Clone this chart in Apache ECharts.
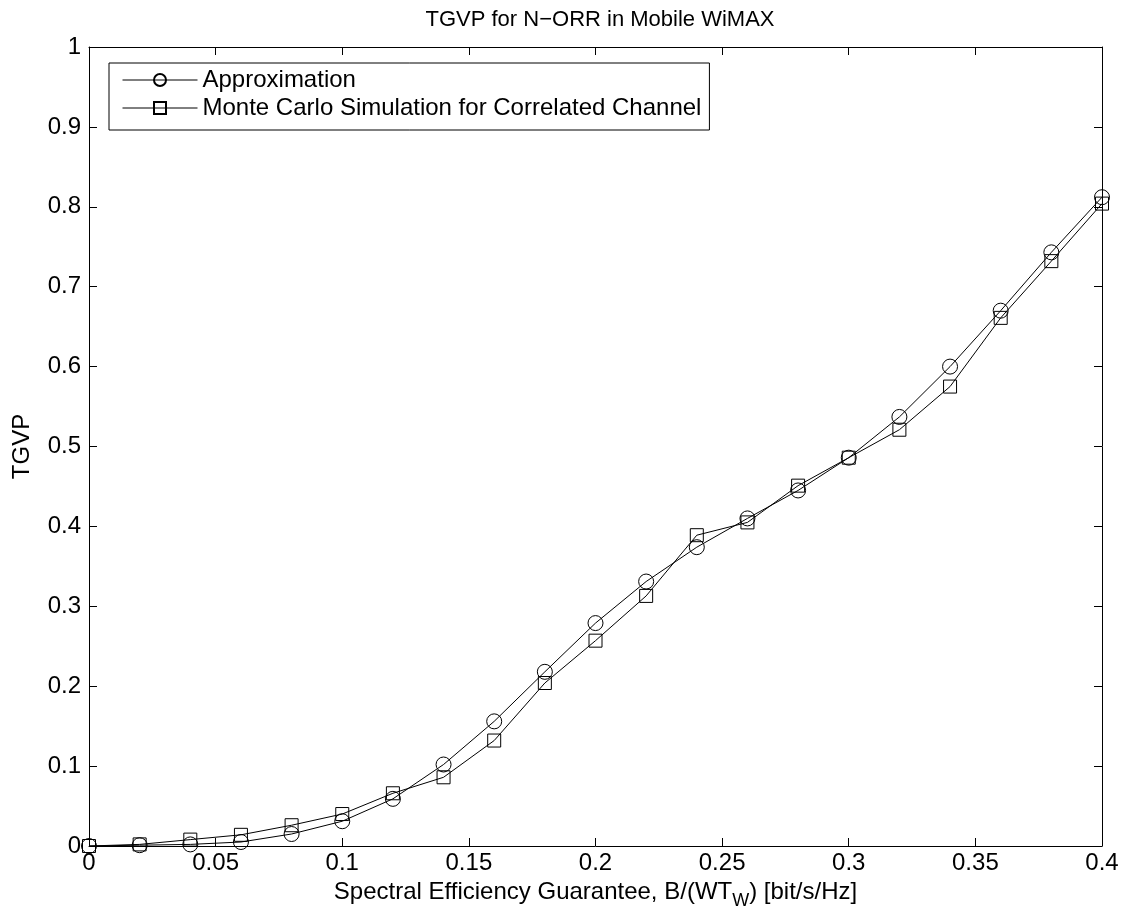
<!DOCTYPE html>
<html>
<head>
<meta charset="utf-8">
<script src="https://cdn.jsdelivr.net/npm/echarts@6/dist/echarts.min.js"></script>
<style>
  html, body { margin: 0; padding: 0; background: #fff; }
  #chart { width: 1125px; height: 913px; }
</style>
</head>
<body>
<div id="chart"></div>
<script>
var xValues = [0, 0.02, 0.04, 0.06, 0.08, 0.10, 0.12, 0.14, 0.16, 0.18, 0.20,
  0.22, 0.24, 0.26, 0.28, 0.30, 0.32, 0.34, 0.36, 0.38, 0.40];
var approx = [0, 0.001, 0.002, 0.005, 0.015, 0.031, 0.059, 0.102, 0.156, 0.218, 0.279,
  0.331, 0.374, 0.410, 0.445, 0.486, 0.537, 0.600, 0.670, 0.743, 0.812];
var monteCarlo = [0, 0.002, 0.008, 0.014, 0.026, 0.040, 0.066, 0.086, 0.132, 0.204, 0.257,
  0.313, 0.389, 0.405, 0.451, 0.486, 0.521, 0.575, 0.661, 0.732, 0.804];

function pairs(ys) {
  var out = [];
  for (var i = 0; i < xValues.length; i++) out.push([xValues[i], ys[i]]);
  return out;
}

var font = 'Liberation Sans, Arial, sans-serif';
var chart = echarts.init(document.getElementById('chart'));

var boxAxis = {
  axisLine: { show: true, onZero: false, lineStyle: { color: '#000', width: 1 } },
  axisTick: { show: true, inside: true, length: 8, lineStyle: { color: '#000' } },
  splitLine: { show: false }
};

chart.setOption({
  animation: false,
  backgroundColor: '#fff',
  title: {
    text: 'TGVP for N\u2212ORR in Mobile WiMAX',
    left: 595, top: 4, textAlign: 'center',
    textStyle: { fontFamily: font, fontSize: 22, fontWeight: 'normal', color: '#000' }
  },
  grid: { left: 89, right: 23, top: 47, bottom: 67, outerBoundsMode: 'none', containLabel: false },
  legend: {
    left: 109, top: 63,
    orient: 'vertical',
    itemWidth: 75, itemHeight: 15, itemGap: 4,
    padding: [5, 8, 10, 13],
    borderColor: '#000', borderWidth: 1,
    backgroundColor: '#fff',
    lineStyle: { width: 1, color: '#000', opacity: 1 },
    textStyle: { fontFamily: font, fontSize: 24, color: '#000', lineHeight: 24 },
    data: ['Approximation', 'Monte Carlo Simulation for Correlated Channel']
  },
  xAxis: [
    Object.assign({
      type: 'value', min: 0, max: 0.4, interval: 0.05, position: 'bottom',
      axisLabel: { fontFamily: font, fontSize: 24, color: '#000', margin: 5 },
      name: 'Spectral Efficiency Guarantee, B/(WT{s|W}) [bit/s/Hz]',
      nameLocation: 'middle', nameGap: 24,
      nameTextStyle: {
        fontFamily: font, fontSize: 24, color: '#000',
        rich: { s: { fontFamily: font, fontSize: 18, color: '#000', verticalAlign: 'bottom', padding: [18, 0, 0, 0] } }
      }
    }, boxAxis),
    Object.assign({
      type: 'value', min: 0, max: 0.4, interval: 0.05, position: 'top',
      axisLabel: { show: false }
    }, boxAxis)
  ],
  yAxis: [
    Object.assign({
      type: 'value', min: 0, max: 1, interval: 0.1, position: 'left',
      axisLabel: { fontFamily: font, fontSize: 24, color: '#000', margin: 8 },
      name: 'TGVP', nameLocation: 'middle', nameGap: 55, nameRotate: 90,
      nameTextStyle: { fontFamily: font, fontSize: 24, color: '#000' }
    }, boxAxis),
    Object.assign({
      type: 'value', min: 0, max: 1, interval: 0.1, position: 'right',
      axisLabel: { show: false }
    }, boxAxis)
  ],
  series: [
    {
      name: 'Approximation',
      type: 'line',
      data: pairs(approx),
      symbol: 'circle', symbolSize: 15,
      lineStyle: { color: '#000', width: 1 },
      itemStyle: { color: 'rgba(255,255,255,0)', borderColor: '#000', borderWidth: 1 }
    },
    {
      name: 'Monte Carlo Simulation for Correlated Channel',
      type: 'line',
      data: pairs(monteCarlo),
      symbol: 'rect', symbolSize: 13,
      lineStyle: { color: '#000', width: 1 },
      itemStyle: { color: 'rgba(255,255,255,0)', borderColor: '#000', borderWidth: 1 }
    }
  ]
});
</script>
</body>
</html>
